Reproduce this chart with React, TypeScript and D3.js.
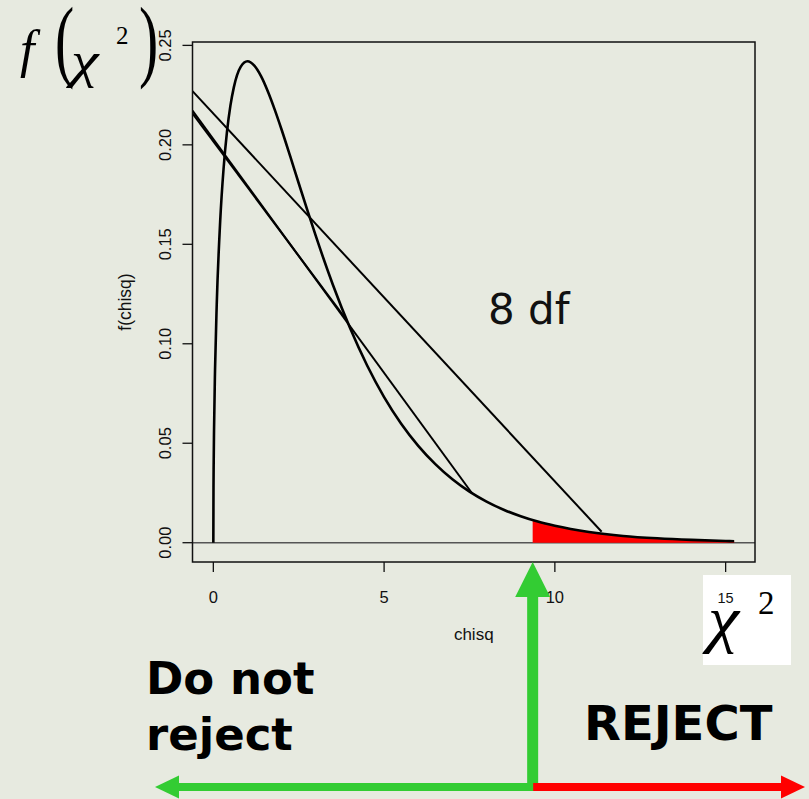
import * as d3 from 'd3';

// chi-square density (x, f(x))
const curveX = [0, 0.005, 0.01, 0.02, 0.05, 0.1, 0.2, 0.3, 0.4, 0.5, 0.6, 0.8, 1.0, 1.2, 1.4, 1.6, 1.8, 2.0, 2.25, 2.5, 2.75, 3.0, 3.5, 4.0, 4.5, 5.0, 5.5, 6.0, 6.5, 7.0, 7.5, 8.0, 8.5, 9.0, 9.5, 10, 11, 12, 13, 14, 15, 15.25];
const curveY = [0, 0.0282, 0.0397, 0.0559, 0.087, 0.12, 0.1614, 0.1881, 0.2066, 0.2197, 0.2289, 0.2392, 0.242, 0.2398, 0.2344, 0.2267, 0.2176, 0.2076, 0.1943, 0.1807, 0.1673, 0.1542, 0.1297, 0.108, 0.0892, 0.0732, 0.0598, 0.0487, 0.0395, 0.0319, 0.0257, 0.0207, 0.0166, 0.0133, 0.0106, 0.0085, 0.0054, 0.0034, 0.0022, 0.0014, 0.00086, 0.00076];

// rejection tail
const critical = 9.35;
const tailX = [9.35, 9.5, 10, 11, 12, 13, 14, 15, 15.25];
const tailY = [0.0116, 0.0106, 0.0085, 0.0054, 0.0034, 0.0022, 0.0014, 0.00086, 0.00076];

// straight lines drawn from the left edge down to the curve
const lineStartY = [0.227, 0.2172, 0.2157];
const lineEndX = [11.37, 7.57, 3.9];
const lineEndY = [0.0055, 0.025, 0.112];

const xTicks = [0, 5, 10];
const yTicks = [0, 0.05, 0.1, 0.15, 0.2, 0.25];

const W = 809;
const H = 799;
const bg = '#E7EAE0';
const green = '#33CC33';
const red = '#FF0000';

export default function App() {
  const x = d3.scaleLinear().domain([-0.61, 15.86]).range([192.5, 755]);
  const y = d3.scaleLinear().domain([-0.0097, 0.2517]).range([562, 42]);
  const [x0, x1] = x.range();
  const [y0, y1] = y.range();

  const pts: [number, number][] = curveX.map((v, i) => [v, curveY[i]]);
  const line = d3
    .line<[number, number]>()
    .x((d) => x(d[0]))
    .y((d) => y(d[1]))
    .curve(d3.curveMonotoneX);

  const tail: [number, number][] = tailX.map((v, i) => [v, tailY[i]]);
  const area = d3
    .area<[number, number]>()
    .x((d) => x(d[0]))
    .y0(y(0))
    .y1((d) => y(d[1]))
    .curve(d3.curveLinear);

  const cx = x(critical);
  const ay = 787;

  return (
    <div style={{ position: 'absolute', left: 0, top: 0 }}>
      <svg width={W} height={H} style={{ display: 'block' }}>
        <defs>
          <clipPath id="plot">
            <rect x={x0} y={y1} width={x1 - x0} height={y0 - y1} />
          </clipPath>
        </defs>
        <rect width={W} height={H} fill={bg} />

        {/* y = 0 reference */}
        <line x1={x0} x2={x1} y1={y(0)} y2={y(0)} stroke="#555" strokeWidth={1.5} />

        <path d={area(tail) ?? ''} fill={red} clipPath="url(#plot)" />

        <g clipPath="url(#plot)" stroke="#000" fill="none">
          {lineStartY.map((s, i) => (
            <line
              key={i}
              x1={x(-0.61)}
              y1={y(s)}
              x2={x(lineEndX[i])}
              y2={y(lineEndY[i])}
              strokeWidth={2}
            />
          ))}
          <path d={line(pts) ?? ''} strokeWidth={2.6} />
        </g>

        {/* frame */}
        <rect x={x0} y={y1} width={x1 - x0} height={y0 - y1} fill="none" stroke="#111" strokeWidth={1.5} />

        {/* axes */}
        <g fontFamily="Liberation Sans, Arial, sans-serif" fontSize={16.5} fill="#111">
          {yTicks.map((t) => (
            <g key={t}>
              <line x1={x0} x2={x0 - 10} y1={y(t)} y2={y(t)} stroke="#111" strokeWidth={1.3} />
              <text transform={`translate(171,${y(t)}) rotate(-90)`} textAnchor="middle">
                {t.toFixed(2)}
              </text>
            </g>
          ))}
          {[...xTicks, 15].map((t) => (
            <line key={t} x1={x(t)} x2={x(t)} y1={y0} y2={y0 + 10} stroke="#111" strokeWidth={1.3} />
          ))}
          {xTicks.map((t) => (
            <text key={t} x={x(t)} y={603} textAnchor="middle">
              {t}
            </text>
          ))}
          <text x={(x0 + x1) / 2} y={640} textAnchor="middle" fontSize={17}>
            chisq
          </text>
          <text transform={`translate(131,${(y0 + y1) / 2}) rotate(-90)`} textAnchor="middle" fontSize={17.5}>
            f(chisq)
          </text>
        </g>

        <text x={488} y={324} fontFamily="DejaVu Sans, Verdana, sans-serif" fontSize={42} fill="#111">
          8 df
        </text>

        {/* f(chi^2) label */}
        <g fontFamily="Liberation Serif, Times New Roman, serif" fill="#000">
          <text x={20} y={67} fontSize={52} fontStyle="italic">f</text>
          <text transform="translate(55,70) scale(0.8,1.25)" fontSize={72}>(</text>
          <text transform="translate(71,77) scale(1.25,1)" fontSize={50} fontStyle="italic">χ</text>
          <text x={116} y={44} fontSize={25}>2</text>
          <text transform="translate(139,70) scale(0.8,1.25)" fontSize={72}>)</text>
        </g>

        {/* chi^2 box at the end of the x axis */}
        <rect x={703} y={575} width={88} height={90} fill="#fff" />
        <text x={x(15)} y={603} textAnchor="middle" fontFamily="Liberation Sans, Arial, sans-serif" fontSize={14.5} fill="#111">
          15
        </text>
        <g fontFamily="Liberation Serif, Times New Roman, serif" fill="#000">
          <text transform="translate(708,640) scale(1.1,1)" fontSize={64} fontStyle="italic">χ</text>
          <text x={758} y={614} fontSize={33}>2</text>
        </g>

        {/* decision arrows */}
        <rect x={cx - 5.5} y={596} width={11} height={ay + 4 - 596} fill={green} />
        <polygon points={`${cx},562 ${cx - 17.5},597 ${cx + 17.5},597`} fill={green} />
        <rect x={179} y={ay - 4} width={cx + 5.5 - 179} height={8} fill={green} />
        <polygon points={`155,${ay} 179,${ay - 11.5} 179,${ay + 11.5}`} fill={green} />
        <rect x={cx + 0.5} y={ay - 4} width={781 - cx} height={8} fill={red} />
        <polygon points={`805,${ay} 781,${ay - 11.5} 781,${ay + 11.5}`} fill={red} />

        <g fontFamily="DejaVu Sans, Verdana, sans-serif" fontWeight="bold" fill="#000">
          <text x={146} y={694} fontSize={45}>Do not</text>
          <text x={146} y={750} fontSize={45}>reject</text>
          <text x={584} y={740} fontSize={48}>REJECT</text>
        </g>
      </svg>
    </div>
  );
}
